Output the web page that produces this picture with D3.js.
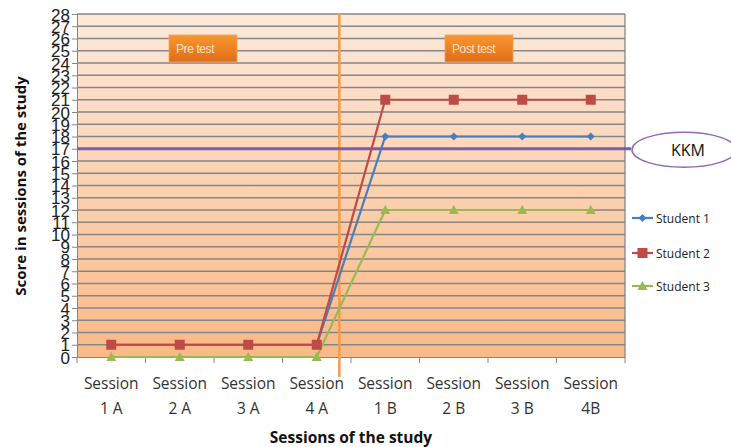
<!DOCTYPE html>
<html><head><meta charset="utf-8">
<script src="https://cdn.jsdelivr.net/npm/d3@7"></script>
<style>body{margin:0;background:#fff}</style>
</head><body>
<svg id="c" width="731" height="447"></svg>
<script>
const categories = [["Session","1 A"],["Session","2 A"],["Session","3 A"],["Session","4 A"],["Session","1 B"],["Session","2 B"],["Session","3 B"],["Session","4B"]];
const student1 = [1,1,1,1,18,18,18,18];
const student2 = [1,1,1,1,21,21,21,21];
const student3 = [0,0,0,0,12,12,12,12];
const seriesNames = ["Student 1","Student 2","Student 3"];
const yTicks = d3.range(0,29);
const kkm = 17;

const svg = d3.select("#c");
const L=77,R=625,T=14,B=357;
const catKeys = categories.map(c=>c.join(" "));
const x = d3.scaleBand().domain(catKeys).range([L,R]);
const y = d3.scaleLinear().domain([0,28]).range([B,T]);

const defs = svg.append("defs");
const bg = defs.append("linearGradient").attr("id","bg").attr("x1",0).attr("y1",0).attr("x2",0).attr("y2",1);
bg.append("stop").attr("offset","0%").attr("stop-color","#fde9db");
bg.append("stop").attr("offset","100%").attr("stop-color","#fab987");
const btn = defs.append("linearGradient").attr("id","btn").attr("x1",0).attr("y1",0).attr("x2",0).attr("y2",1);
btn.append("stop").attr("offset","0%").attr("stop-color","#f9972f");
btn.append("stop").attr("offset","100%").attr("stop-color","#e06c17");

svg.append("rect").attr("x",L).attr("y",T).attr("width",R-L).attr("height",B-T).attr("fill","url(#bg)");

// gridlines
svg.append("g").selectAll("line").data(yTicks.slice(1)).join("line")
  .attr("x1",L).attr("x2",R).attr("y1",d=>y(d)).attr("y2",d=>y(d))
  .attr("stroke","#868686").attr("stroke-width",1.3);
svg.append("line").attr("x1",R).attr("x2",R).attr("y1",T).attr("y2",B).attr("stroke","#868686").attr("stroke-width",1.3);

// y axis
const ya = svg.append("g").attr("transform",`translate(${L},0)`)
  .call(d3.axisLeft(y).tickValues(yTicks).tickSize(5).tickPadding(2).tickFormat(d3.format("d")));
ya.select(".domain").attr("stroke","#868686");
ya.selectAll(".tick line").attr("stroke","#868686");
ya.selectAll("text").attr("font-family","Liberation Sans Narrow, Liberation Sans, Arial, sans-serif").attr("font-size",17).attr("fill","#222").attr("dy","0.36em");

// x axis
const xa = svg.append("g").attr("transform",`translate(0,${B})`)
  .call(d3.axisBottom(x).tickSize(0).tickFormat(""));
xa.select(".domain").attr("stroke","#868686");
svg.append("g").selectAll("line").data(d3.range(0,9)).join("line")
  .attr("x1",i=>L+i*x.step()).attr("x2",i=>L+i*x.step()).attr("y1",B).attr("y2",B+6)
  .attr("stroke","#868686");
const xl = svg.append("g").selectAll("text").data(categories).join("text")
  .attr("x",(d,i)=>x(catKeys[i])+x.bandwidth()/2).attr("y",389)
  .attr("text-anchor","middle").attr("font-family","Open Sans, sans-serif").attr("font-size",15.5).attr("fill","#333");
xl.append("tspan").attr("x",(d,i)=>x(catKeys[i])+x.bandwidth()/2).text(d=>d[0]);
xl.append("tspan").attr("x",(d,i)=>x(catKeys[i])+x.bandwidth()/2).attr("dy",25).text(d=>d[1]);

// orange divider
const divX = x(catKeys[3]) + x.bandwidth()*0.83;
svg.append("line").attr("x1",divX).attr("x2",divX).attr("y1",T-1).attr("y2",377).attr("stroke","#f59a45").attr("stroke-width",2.5);

// labels boxes
function box(cx, label){
  svg.append("rect").attr("x",cx).attr("y",35).attr("width",68).attr("height",27).attr("fill","url(#btn)")
    .attr("stroke","#f0a060").attr("stroke-width",0.8);
  svg.append("text").attr("x",cx+7).attr("y",53).attr("font-family","Liberation Sans, Arial, sans-serif")
    .attr("font-size",12).attr("fill","#fde2c8").attr("letter-spacing","-0.4").text(label);
}
box(169,"Pre test");
box(445,"Post test");

// KKM line + ellipse
svg.append("line").attr("x1",L).attr("x2",631).attr("y1",y(kkm)).attr("y2",y(kkm)).attr("stroke","#7b5ea7").attr("stroke-width",3);
svg.append("ellipse").attr("cx",684).attr("cy",y(kkm)+1).attr("rx",52).attr("ry",17.5).attr("fill","#fff").attr("stroke","#8e6cb8").attr("stroke-width",1.5);
svg.append("text").attr("x",688).attr("y",y(kkm)+7).attr("text-anchor","middle").attr("font-family","Open Sans, sans-serif").attr("font-size",16).attr("fill","#111").text("KKM");

// series
const colors = ["#4a7ebb","#be4b48","#98b954"];
const allSeries = [student1, student2, student3];
const line = d3.line().x((d,i)=>x(catKeys[i])+x.bandwidth()/2).y(d=>y(d));
function marker(g, k, cx, cy){
  if(k===0) g.append("path").attr("d",`M${cx},${cy-4}L${cx+4},${cy}L${cx},${cy+4}L${cx-4},${cy}Z`).attr("fill",colors[0]);
  else if(k===1) g.append("rect").attr("x",cx-5).attr("y",cy-5).attr("width",10).attr("height",10).attr("fill",colors[1]);
  else g.append("path").attr("d",`M${cx},${cy-5}L${cx+5},${cy+4}L${cx-5},${cy+4}Z`).attr("fill",colors[2]);
}
[2,0,1].forEach(k=>{
  const g = svg.append("g");
  g.append("path").datum(allSeries[k]).attr("d",line).attr("fill","none").attr("stroke",colors[k]).attr("stroke-width",2.2);
  allSeries[k].forEach((v,i)=>marker(g,k,x(catKeys[i])+x.bandwidth()/2,y(v)));
});

// legend
const ly = [218,253,286];
seriesNames.forEach((n,k)=>{
  const g = svg.append("g");
  g.append("line").attr("x1",632).attr("x2",653).attr("y1",ly[k]).attr("y2",ly[k]).attr("stroke",colors[k]).attr("stroke-width",2.2);
  marker(g,k,642.5,ly[k]);
  g.append("text").attr("x",656).attr("y",ly[k]+4.5).attr("font-family","Open Sans, sans-serif").attr("font-size",12).attr("fill","#222").text(n);
});

// axis titles
svg.append("text").attr("transform","translate(26,186) rotate(-90)").attr("text-anchor","middle")
  .attr("font-family","Open Sans, sans-serif").attr("font-weight","bold").attr("font-size",15).attr("fill","#111").text("Score in sessions of the study");
svg.append("text").attr("x",351).attr("y",443).attr("text-anchor","middle")
  .attr("font-family","Open Sans, sans-serif").attr("font-weight","bold").attr("font-size",15.5).attr("fill","#111").text("Sessions of the study");
</script>
</body></html>
